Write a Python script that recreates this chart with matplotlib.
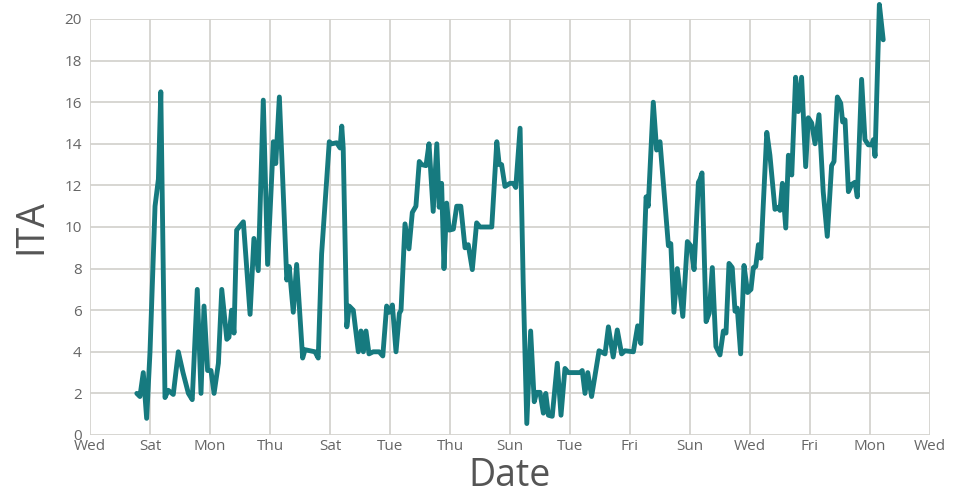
import matplotlib
matplotlib.use("Agg")
import matplotlib.pyplot as plt

# day offsets from axis start (Wed 12:00) and ITA values
days = [1.95, 2.08, 2.22, 2.36, 2.5, 2.71, 2.85, 2.95, 3.125, 3.26, 3.47, 3.68, 3.875,
        4.1, 4.26, 4.47, 4.625, 4.75, 4.9, 5.04, 5.17, 5.35, 5.49, 5.7, 5.79, 5.9, 6.0,
        6.11, 6.39, 6.67, 6.83, 7.01, 7.22, 7.4, 7.64, 7.74, 7.89, 8.2, 8.3, 8.47, 8.61,
        8.86, 8.96, 9.375, 9.51, 9.65, 9.97, 10.07, 10.28, 10.42, 10.49, 10.55, 10.7,
        10.8, 10.97, 11.18, 11.29, 11.39, 11.5, 11.625, 11.8, 12.05, 12.2, 12.36, 12.47,
        12.6, 12.75, 12.89, 12.96, 13.125, 13.29, 13.43, 13.58, 13.72, 13.82, 14.0,
        14.125, 14.3, 14.45, 14.55, 14.65, 14.75, 14.86, 14.97, 15.14, 15.28, 15.45,
        15.625, 15.76, 15.93, 16.11, 16.25, 16.74, 16.95, 17.05, 17.15, 17.29, 17.5,
        17.64, 17.74, 17.92, 18.05, 18.2, 18.36, 18.51, 18.61, 18.75, 18.89, 18.99,
        19.1, 19.26, 19.47, 19.625, 19.79, 19.93, 20.42, 20.51, 20.625, 20.74, 20.9,
        21.21, 21.46, 21.6, 21.8, 21.97, 22.15, 22.29, 22.64, 22.82, 22.95, 23.17,
        23.26, 23.47, 23.61, 23.75, 24.1, 24.2, 24.33, 24.47, 24.7, 24.89, 25.03,
        25.17, 25.35, 25.42, 25.5, 25.67, 25.8, 25.93, 26.08, 26.25, 26.39, 26.5,
        26.625, 26.76, 26.875, 26.97, 27.11, 27.25, 27.4, 27.54, 27.64, 27.74, 27.85,
        27.95, 28.05, 28.2, 28.33, 28.54, 28.68, 28.75, 28.85, 28.99, 29.1, 29.24,
        29.4, 29.51, 29.65, 29.82, 29.93, 30.07, 30.21, 30.375, 30.55, 30.72, 30.9,
        31.0, 31.14, 31.28, 31.36, 31.46, 31.6, 31.74, 31.875, 31.97, 32.15, 32.29,
        32.43, 32.57, 32.64, 32.71, 32.89, 33.05]
ita = [2.0, 1.85, 3.0, 0.8, 4.0, 11.0, 12.3, 16.5, 1.8, 2.15, 1.95, 4.0, 3.0,
       2.0, 1.7, 7.0, 2.0, 6.2, 3.1, 3.1, 2.0, 3.45, 7.0, 4.6, 4.7, 6.0, 4.9,
       9.85, 10.25, 5.8, 9.45, 7.9, 16.1, 8.2, 14.1, 13.05, 16.25, 7.45, 8.1, 5.9, 8.2,
       3.7, 4.1, 4.0, 3.7, 8.7, 14.1, 14.0, 14.05, 13.8, 14.85, 13.8, 5.2,
       6.2, 6.0, 4.0, 5.0, 4.0, 5.0, 3.9, 4.0, 4.0, 3.8, 6.2, 5.9,
       6.25, 4.0, 5.85, 6.0, 10.15, 8.95, 10.7, 11.0, 13.15, 13.0, 12.95,
       14.0, 10.75, 14.0, 10.95, 12.1, 8.0, 11.15, 9.85, 9.9, 11.0, 11.0,
       9.0, 9.15, 7.95, 10.2, 10.0, 10.0, 14.1, 13.0, 13.0, 11.95, 12.1,
       12.1, 11.9, 14.75, 7.3, 0.55, 5.0, 1.6, 2.05, 2.05, 1.05, 2.0,
       0.95, 0.9, 3.45, 0.95, 3.2, 3.0, 3.0, 3.1, 2.0, 3.0, 1.85,
       4.05, 3.9, 5.2, 3.75, 5.05, 3.9, 4.05, 4.0, 5.25, 4.4, 11.45,
       11.0, 16.0, 13.7, 14.1, 9.1, 9.2, 5.9, 8.0, 5.7, 9.3, 9.1,
       7.95, 12.15, 12.3, 12.6, 5.45, 5.85, 8.05, 4.25, 3.85, 5.0, 4.9,
       8.25, 8.05, 5.95, 6.1, 3.9, 8.15, 6.85, 7.0, 8.05, 8.1, 9.15,
       8.5, 11.0, 14.55, 13.45, 10.85, 10.95, 10.8, 12.1, 9.95, 13.45, 12.5,
       17.2, 15.55, 17.2, 12.9, 15.25, 15.0, 14.0, 15.4, 11.7, 9.55, 12.95,
       13.15, 16.25, 15.95, 15.05, 15.15, 11.7, 12.05, 12.15, 11.45, 17.1, 14.2,
       13.95, 13.95, 14.2, 13.4, 20.7, 19.0]

tick_days = [i * 2.5 for i in range(15)]
tick_labels = ["Wed", "Sat", "Mon", "Thu", "Sat", "Tue", "Thu", "Sun", "Tue",
               "Fri", "Sun", "Wed", "Fri", "Mon", "Wed"]
y_ticks = list(range(0, 21, 2))

plt.rcParams['font.family'] = ['Open Sans', 'DejaVu Sans']

fig = plt.figure(figsize=(9.6, 5.0), dpi=100)
ax = fig.add_axes([90/960, 65/500, 840/960, 416/500])

ax.plot(days, ita, color="#167a7f", linewidth=3.5, solid_joinstyle="round",
        solid_capstyle="round", clip_on=False, zorder=3)

ax.set_xlim(0, 35)
ax.set_ylim(0, 20)
ax.set_xticks(tick_days)
ax.set_xticklabels(tick_labels)
ax.set_yticks(y_ticks)
ax.grid(True, color="#d4d3cf", linewidth=1.3)
ax.set_axisbelow(True)
for s in ax.spines.values():
    s.set_visible(False)
ax.tick_params(length=0, labelsize=11, labelcolor="#666666", pad=3)
ax.tick_params(axis='y', pad=6)
ax.set_xlabel("Date", fontsize=27, color="#555555", labelpad=2)
ax.set_ylabel("ITA", fontsize=27, color="#555555", labelpad=10)

fig.savefig("out.png", dpi=100)
